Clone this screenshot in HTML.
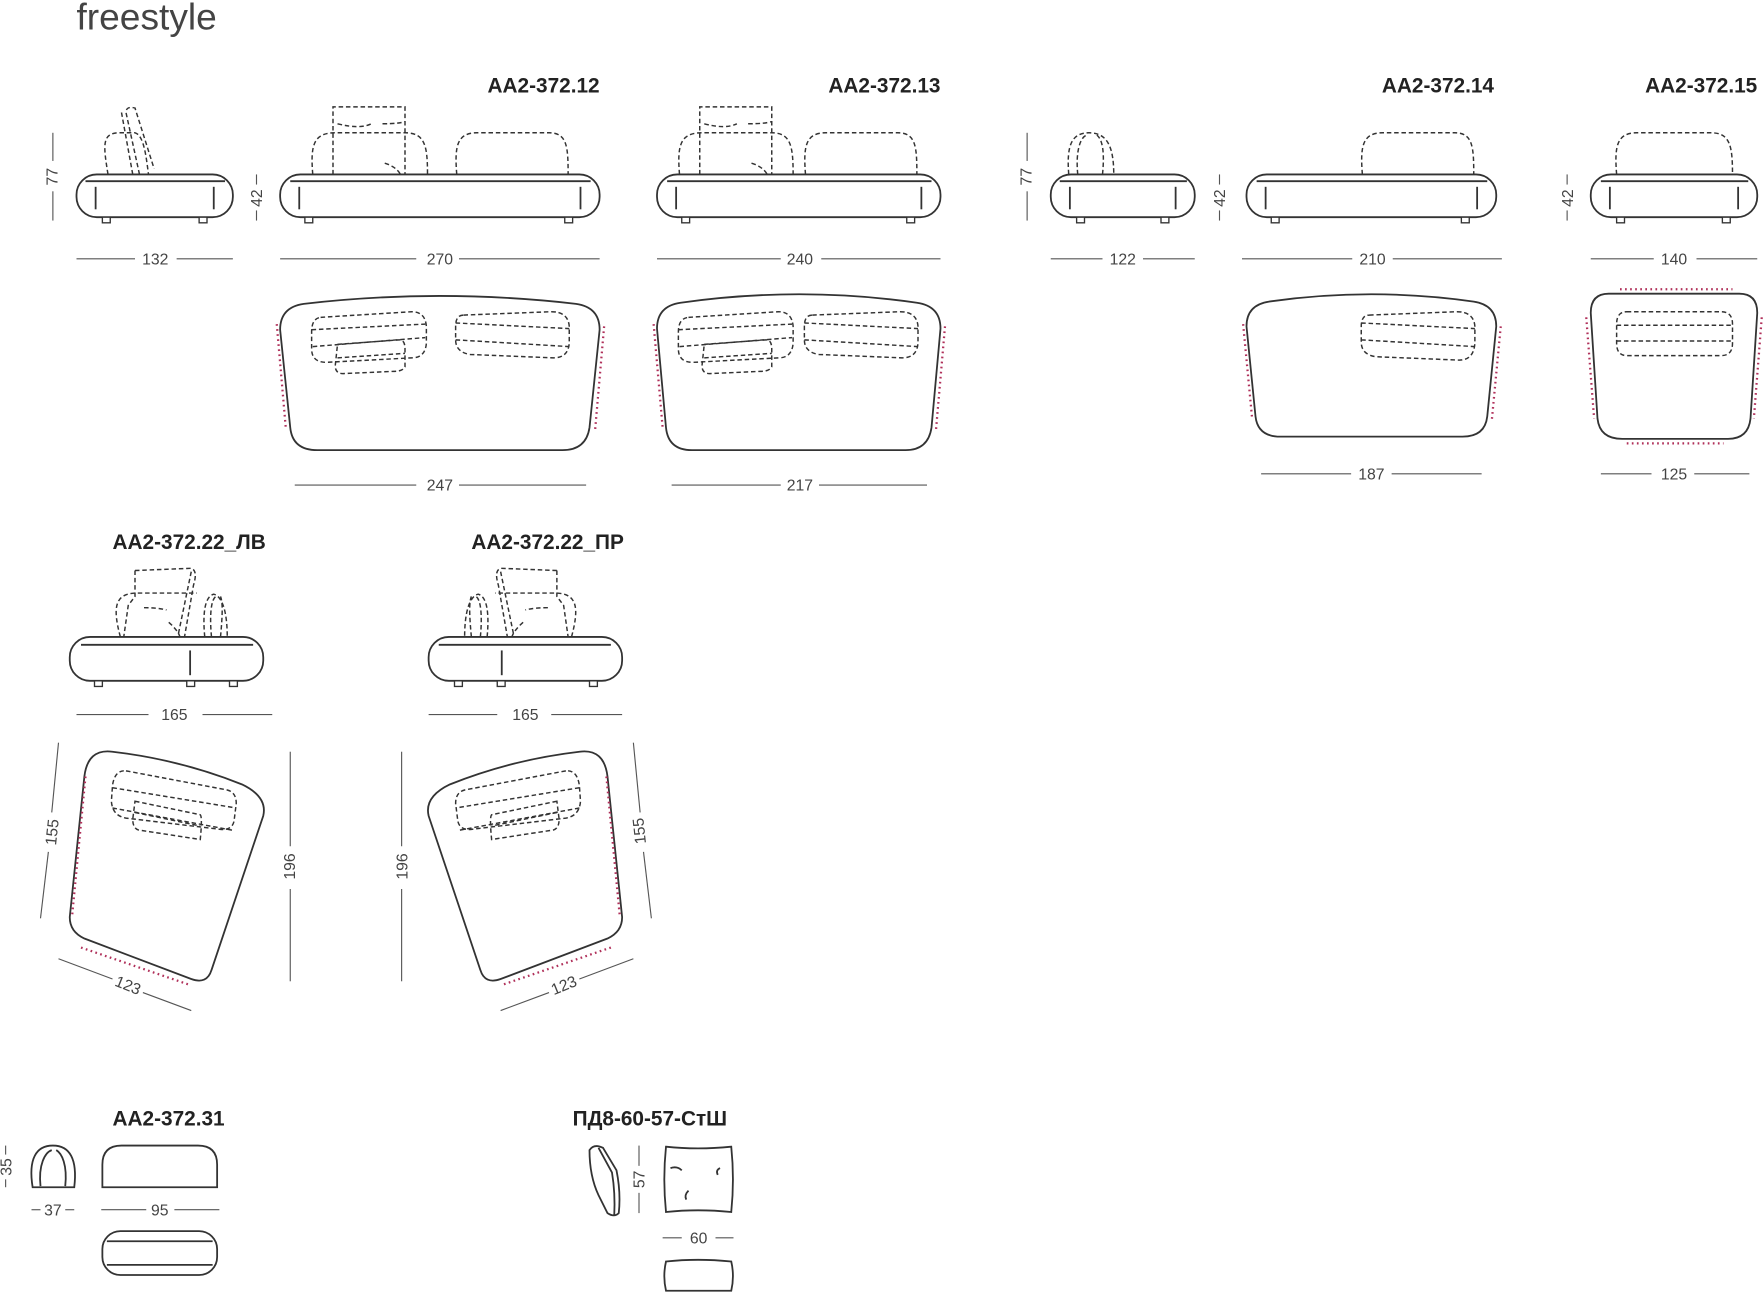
<!DOCTYPE html>
<html><head><meta charset="utf-8"><style>
html,body{margin:0;padding:0;background:#fff;}
svg{display:block}
text{font-family:"Liberation Sans",sans-serif;fill:#333}
.t{font-weight:bold;font-size:18.5px;fill:#222}
.d{font-size:14px;fill:#444}
.s{fill:none;stroke:#333;stroke-width:1.6}
.k{fill:none;stroke:#333;stroke-width:1.3;stroke-dasharray:4 2.5}
.l{stroke:#555;stroke-width:1;fill:none}
.r{fill:none;stroke:#b0305a;stroke-width:2;stroke-dasharray:1.5 3}
.f{fill:#fff;stroke:#333;stroke-width:1.2}
</style></head><body>
<svg width="1764" height="1293" viewBox="0 0 1568 1149" preserveAspectRatio="none" xmlns="http://www.w3.org/2000/svg">
<text x="68" y="26" style="font-size:33px;fill:#444;font-weight:300">freestyle</text>

<text class="t" x="533" y="82" text-anchor="end">AA2-372.12</text>
<text class="t" x="836" y="82" text-anchor="end">AA2-372.13</text>
<text class="t" x="1328" y="82" text-anchor="end">AA2-372.14</text>
<text class="t" x="1562" y="82" text-anchor="end">AA2-372.15</text>
<text class="t" x="100" y="488">AA2-372.22_ЛВ</text>
<text class="t" x="419" y="488">AA2-372.22_ПР</text>
<text class="t" x="100" y="1000">AA2-372.31</text>
<text class="t" x="509" y="1000">ПД8-60-57-СтШ</text>

<path class="k" d="M96 155 C92 130 90 118 106 118 L120 118 C128 120 130 140 132 155"/>
<path class="k" d="M124 155 L112 100 Q112 94 120 96 L137 150"/>
<path class="k" d="M118 155 L108 100"/>
<rect class="s" x="68" y="155" width="139" height="38" rx="18"/>
<line class="s" x1="76" y1="161" x2="200" y2="161"/>
<line class="s" x1="85" y1="166" x2="85" y2="186"/><line class="s" x1="190" y1="166" x2="190" y2="186"/>
<rect class="f" x="91" y="193" width="7" height="5"/><rect class="f" x="177" y="193" width="7" height="5"/>
<line class="l" x1="47" y1="118" x2="47" y2="143"/><line class="l" x1="47" y1="170" x2="47" y2="196"/>
<text class="d" transform="translate(51,157) rotate(-90)" text-anchor="middle">77</text>
<line class="l" x1="68" y1="230" x2="120" y2="230"/><line class="l" x1="157" y1="230" x2="207" y2="230"/>
<text class="d" x="138" y="235" text-anchor="middle">132</text>

<path class="k" d="M278 155 C276 130 278 118 298 118 L360 118 C378 118 380 130 380 155"/>
<path class="k" d="M296 155 L296 95 L360 95 L360 155"/>
<path class="k" d="M300 110 Q320 115 330 110 M340 110 Q355 110 360 108"/>
<path class="k" d="M342 145 Q352 148 356 155"/>
<path class="k" d="M406 155 C404 130 406 118 424 118 L488 118 C504 118 505 130 505 155"/>
<rect class="s" x="249" y="155" width="284" height="38" rx="18"/>
<line class="s" x1="258" y1="161" x2="525" y2="161"/>
<line class="s" x1="266" y1="166" x2="266" y2="186"/><line class="s" x1="516" y1="166" x2="516" y2="186"/>
<rect class="f" x="271" y="193" width="7" height="5"/><rect class="f" x="502" y="193" width="7" height="5"/>
<line class="l" x1="228" y1="155" x2="228" y2="164"/><line class="l" x1="228" y1="187" x2="228" y2="196"/>
<text class="d" transform="translate(233,176) rotate(-90)" text-anchor="middle">42</text>
<line class="l" x1="249" y1="230" x2="370" y2="230"/><line class="l" x1="408" y1="230" x2="533" y2="230"/>
<text class="d" x="391" y="235" text-anchor="middle">270</text>
<path class="s" d="M270 270 Q390 256 512 270 Q533 273 533 293 L524 380 Q521 400 500 400 L282 400 Q260 400 258 380 L249 293 Q249 273 270 270 Z"/>
<path class="r" d="M246 288 L254 380"/><path class="r" d="M537 290 L529 382"/>
<path class="k" d="M285 282 L366 277 Q378 277 379 290 L379 305 Q378 318 366 318 L290 322 Q277 322 277 310 L277 295 Q277 283 285 282 Z M277 293 L378 288 M278 308 L378 300"/>
<path class="k" d="M300 306 L355 302 Q360 302 360 310 L360 326 Q358 330 350 330 L305 332 Q298 332 298 325 Z M300 318 L360 314"/>
<path class="k" d="M412 280 L490 277 Q505 277 506 290 L506 305 Q505 318 492 318 L418 315 Q405 313 405 302 L405 290 Q405 280 412 280 Z M405 287 L506 292 M405 302 L506 308"/>
<line class="l" x1="262" y1="431" x2="370" y2="431"/><line class="l" x1="408" y1="431" x2="521" y2="431"/>
<text class="d" x="391" y="436" text-anchor="middle">247</text>

<path class="k" d="M604 155 C602 130 604 118 624 118 L686 118 C703 118 705 130 705 155"/>
<path class="k" d="M622 155 L622 95 L686 95 L686 155"/>
<path class="k" d="M626 110 Q645 115 655 110 M665 110 Q680 110 686 108"/>
<path class="k" d="M668 145 Q678 148 682 155"/>
<path class="k" d="M716 155 C714 130 716 118 734 118 L798 118 C814 118 815 130 815 155"/>
<rect class="s" x="584" y="155" width="252" height="38" rx="18"/>
<line class="s" x1="593" y1="161" x2="828" y2="161"/>
<line class="s" x1="601" y1="166" x2="601" y2="186"/><line class="s" x1="819" y1="166" x2="819" y2="186"/>
<rect class="f" x="606" y="193" width="7" height="5"/><rect class="f" x="806" y="193" width="7" height="5"/>
<line class="l" x1="584" y1="230" x2="694" y2="230"/><line class="l" x1="730" y1="230" x2="836" y2="230"/>
<text class="d" x="711" y="235" text-anchor="middle">240</text>
<path class="s" d="M605 269 Q711 254 815 269 Q836 272 836 292 L828 380 Q825 400 805 400 L615 400 Q594 400 592 380 L584 292 Q584 272 605 269 Z"/>
<path class="r" d="M581 288 L589 380"/><path class="r" d="M840 290 L832 382"/>
<path class="k" d="M612 282 L692 277 Q704 277 705 290 L705 305 Q704 318 692 318 L616 322 Q603 322 603 310 L603 295 Q603 283 612 282 Z M603 293 L704 288 M604 308 L704 300"/>
<path class="k" d="M626 306 L681 302 Q686 302 686 310 L686 326 Q684 330 676 330 L631 332 Q624 332 624 325 Z M626 318 L686 314"/>
<path class="k" d="M722 280 L800 277 Q815 277 816 290 L816 305 Q815 318 802 318 L728 315 Q715 313 715 302 L715 290 Q715 280 722 280 Z M715 287 L816 292 M715 302 L816 308"/>
<line class="l" x1="597" y1="431" x2="694" y2="431"/><line class="l" x1="728" y1="431" x2="824" y2="431"/>
<text class="d" x="711" y="436" text-anchor="middle">217</text>

<path class="k" d="M950 155 C948 130 952 118 968 118 C984 118 990 130 990 155 M958 155 C956 135 960 122 966 120 M980 155 C982 135 980 124 975 120"/>
<rect class="s" x="934" y="155" width="128" height="38" rx="18"/>
<line class="s" x1="942" y1="161" x2="1055" y2="161"/>
<line class="s" x1="951" y1="166" x2="951" y2="186"/><line class="s" x1="1045" y1="166" x2="1045" y2="186"/>
<rect class="f" x="957" y="193" width="7" height="5"/><rect class="f" x="1032" y="193" width="7" height="5"/>
<line class="l" x1="913" y1="118" x2="913" y2="143"/><line class="l" x1="913" y1="170" x2="913" y2="196"/>
<text class="d" transform="translate(917,157) rotate(-90)" text-anchor="middle">77</text>
<line class="l" x1="934" y1="230" x2="980" y2="230"/><line class="l" x1="1016" y1="230" x2="1062" y2="230"/>
<text class="d" x="998" y="235" text-anchor="middle">122</text>

<path class="k" d="M1211 155 C1209 130 1211 118 1229 118 L1293 118 C1309 118 1310 130 1310 155"/>
<rect class="s" x="1108" y="155" width="222" height="38" rx="18"/>
<line class="s" x1="1117" y1="161" x2="1322" y2="161"/>
<line class="s" x1="1125" y1="166" x2="1125" y2="186"/><line class="s" x1="1313" y1="166" x2="1313" y2="186"/>
<rect class="f" x="1130" y="193" width="7" height="5"/><rect class="f" x="1299" y="193" width="7" height="5"/>
<line class="l" x1="1084" y1="155" x2="1084" y2="164"/><line class="l" x1="1084" y1="187" x2="1084" y2="196"/>
<text class="d" transform="translate(1089,176) rotate(-90)" text-anchor="middle">42</text>
<line class="l" x1="1104" y1="230" x2="1202" y2="230"/><line class="l" x1="1238" y1="230" x2="1335" y2="230"/>
<text class="d" x="1220" y="235" text-anchor="middle">210</text>
<path class="s" d="M1128 268 Q1219 255 1310 268 Q1330 271 1330 290 L1322 370 Q1320 388 1300 388 L1138 388 Q1118 388 1116 370 L1108 290 Q1108 271 1128 268 Z"/>
<path class="r" d="M1105 288 L1113 372"/><path class="r" d="M1334 290 L1326 374"/>
<path class="k" d="M1217 280 L1295 277 Q1310 277 1311 290 L1311 305 Q1310 320 1297 320 L1223 317 Q1210 315 1210 304 L1210 290 Q1210 280 1217 280 Z M1210 287 L1311 292 M1210 302 L1311 308"/>
<line class="l" x1="1121" y1="421" x2="1201" y2="421"/><line class="l" x1="1237" y1="421" x2="1317" y2="421"/>
<text class="d" x="1219" y="426" text-anchor="middle">187</text>

<path class="k" d="M1437 155 C1435 130 1437 118 1455 118 L1521 118 C1538 118 1540 130 1540 155"/>
<rect class="s" x="1414" y="155" width="148" height="38" rx="18"/>
<line class="s" x1="1423" y1="161" x2="1554" y2="161"/>
<line class="s" x1="1431" y1="166" x2="1431" y2="186"/><line class="s" x1="1545" y1="166" x2="1545" y2="186"/>
<rect class="f" x="1437" y="193" width="7" height="5"/><rect class="f" x="1531" y="193" width="7" height="5"/>
<line class="l" x1="1393" y1="155" x2="1393" y2="164"/><line class="l" x1="1393" y1="187" x2="1393" y2="196"/>
<text class="d" transform="translate(1398,176) rotate(-90)" text-anchor="middle">42</text>
<line class="l" x1="1414" y1="230" x2="1470" y2="230"/><line class="l" x1="1508" y1="230" x2="1562" y2="230"/>
<text class="d" x="1488" y="235" text-anchor="middle">140</text>
<path class="s" d="M1430 261 L1546 261 Q1562 261 1562 278 L1556 372 Q1554 390 1536 390 L1442 390 Q1422 390 1420 372 L1414 278 Q1414 261 1430 261 Z"/>
<path class="r" d="M1440 257 L1540 257"/><path class="r" d="M1446 394 L1532 394"/>
<path class="r" d="M1410 282 L1417 372"/><path class="r" d="M1566 282 L1559 372"/>
<path class="k" d="M1446 277 L1530 277 Q1540 277 1540 288 L1540 305 Q1540 316 1530 316 L1446 316 Q1437 316 1437 305 L1437 288 Q1437 277 1446 277 Z M1437 289 L1540 289 M1437 303 L1540 303"/>
<line class="l" x1="1423" y1="421" x2="1468" y2="421"/><line class="l" x1="1506" y1="421" x2="1555" y2="421"/>
<text class="d" x="1488" y="426" text-anchor="middle">125</text>

<g id="lv">
<path class="k" d="M107 566 C100 540 102 528 120 527 L175 527 M120 507 L170 505 Q176 507 172 520 L164 566 M170 508 L158 566"/>
<path class="k" d="M120 507 L120 530 L114 538 L110 566 M128 540 Q140 540 148 542"/>
<path class="k" d="M150 553 Q158 560 160 566"/>
<path class="k" d="M182 566 C180 545 182 530 190 528 C198 530 202 545 202 566 M188 566 C186 545 188 532 192 530 M196 566 C198 545 198 535 196 530"/>
<rect class="s" x="62" y="566" width="172" height="39" rx="18"/>
<line class="s" x1="72" y1="573" x2="225" y2="573"/>
<line class="s" x1="169" y1="578" x2="169" y2="600"/>
<rect class="f" x="84" y="605" width="7" height="5"/><rect class="f" x="166" y="605" width="7" height="5"/><rect class="f" x="204" y="605" width="7" height="5"/>
<path class="s" d="M100 668 Q160 675 215 697 Q238 708 234 725 L188 862 Q184 875 170 870 L75 834 Q62 828 62 815 L75 690 Q78 665 100 668 Z"/>
<path class="r" d="M76 690 L64 815"/><path class="r" d="M72 842 L168 875"/>
<path class="k" d="M112 685 L202 702 Q210 704 210 714 L208 730 Q206 738 196 737 L112 727 Q100 725 99 712 L100 698 Q102 684 112 685 Z M100 700 L210 718 M100 718 L208 738"/>
<path class="k" d="M120 712 L178 724 Q180 726 178 746 L126 738 Q118 738 118 728 Z M120 722 L178 734"/>
</g>
<line class="l" x1="68" y1="635" x2="132" y2="635"/><line class="l" x1="180" y1="635" x2="242" y2="635"/>
<text class="d" x="155" y="640" text-anchor="middle">165</text>
<line class="l" x1="52" y1="660" x2="46" y2="722"/><line class="l" x1="43" y1="757" x2="36" y2="816"/>
<text class="d" transform="translate(51,740) rotate(-84)" text-anchor="middle">155</text>
<line class="l" x1="258" y1="668" x2="258" y2="752"/><line class="l" x1="258" y1="790" x2="258" y2="872"/>
<text class="d" transform="translate(262,770) rotate(-90)" text-anchor="middle">196</text>
<line class="l" x1="52" y1="852" x2="100" y2="870"/><line class="l" x1="127" y1="882" x2="170" y2="898"/>
<text class="d" transform="translate(112,880) rotate(22)" text-anchor="middle">123</text>

<use href="#lv" transform="translate(615,0) scale(-1,1)"/>
<line class="l" x1="381" y1="635" x2="442" y2="635"/><line class="l" x1="490" y1="635" x2="553" y2="635"/>
<text class="d" x="467" y="640" text-anchor="middle">165</text>
<line class="l" x1="563" y1="660" x2="569" y2="722"/><line class="l" x1="572" y1="757" x2="579" y2="816"/>
<text class="d" transform="translate(573,738) rotate(-96)" text-anchor="middle">155</text>
<line class="l" x1="357" y1="668" x2="357" y2="752"/><line class="l" x1="357" y1="790" x2="357" y2="872"/>
<text class="d" transform="translate(362,770) rotate(-90)" text-anchor="middle">196</text>
<line class="l" x1="563" y1="852" x2="515" y2="870"/><line class="l" x1="488" y1="882" x2="445" y2="898"/>
<text class="d" transform="translate(503,880) rotate(-22)" text-anchor="middle">123</text>

<path class="s" d="M29 1055 C25 1030 32 1018 47 1018 C62 1018 69 1030 66 1055 Z"/>
<path class="s" d="M36 1054 C34 1035 40 1024 46 1022 M58 1054 C60 1035 55 1025 50 1022"/>
<path class="s" d="M91 1055 L91 1035 Q91 1018 108 1018 L176 1018 Q193 1018 193 1035 L193 1055 Z"/>
<line class="l" x1="5" y1="1018" x2="5" y2="1026"/><line class="l" x1="5" y1="1048" x2="5" y2="1055"/>
<text class="d" transform="translate(10,1037) rotate(-90)" text-anchor="middle">35</text>
<line class="l" x1="28" y1="1075" x2="36" y2="1075"/><line class="l" x1="58" y1="1075" x2="66" y2="1075"/>
<text class="d" x="47" y="1080" text-anchor="middle">37</text>
<line class="l" x1="90" y1="1075" x2="130" y2="1075"/><line class="l" x1="155" y1="1075" x2="195" y2="1075"/>
<text class="d" x="142" y="1080" text-anchor="middle">95</text>
<rect class="s" x="91" y="1094" width="102" height="39" rx="16"/>
<line class="s" x1="95" y1="1103" x2="189" y2="1103"/><line class="s" x1="95" y1="1124" x2="189" y2="1124"/>

<path class="s" d="M524 1022 Q528 1016 536 1020 L548 1040 Q552 1060 550 1078 Q546 1082 540 1078 L532 1062 Q524 1045 524 1022 Z"/>
<path class="s" d="M532 1020 L544 1042 Q547 1060 546 1080"/>
<line class="l" x1="568" y1="1018" x2="568" y2="1036"/><line class="l" x1="568" y1="1060" x2="568" y2="1078"/>
<text class="d" transform="translate(573,1048) rotate(-90)" text-anchor="middle">57</text>
<path class="s" d="M592 1019 Q620 1022 650 1019 Q653 1048 650 1077 Q620 1074 592 1077 Q589 1048 592 1019 Z"/>
<path class="s" d="M596 1038 Q602 1036 606 1040 M640 1038 Q636 1040 638 1044 M612 1058 Q608 1062 610 1066"/>
<line class="l" x1="589" y1="1100" x2="606" y2="1100"/><line class="l" x1="636" y1="1100" x2="652" y2="1100"/>
<text class="d" x="621" y="1105" text-anchor="middle">60</text>
<path class="s" d="M592 1121 Q620 1118 650 1121 Q653 1134 650 1147 L592 1147 Q589 1134 592 1121 Z"/>
</svg>
</body></html>
